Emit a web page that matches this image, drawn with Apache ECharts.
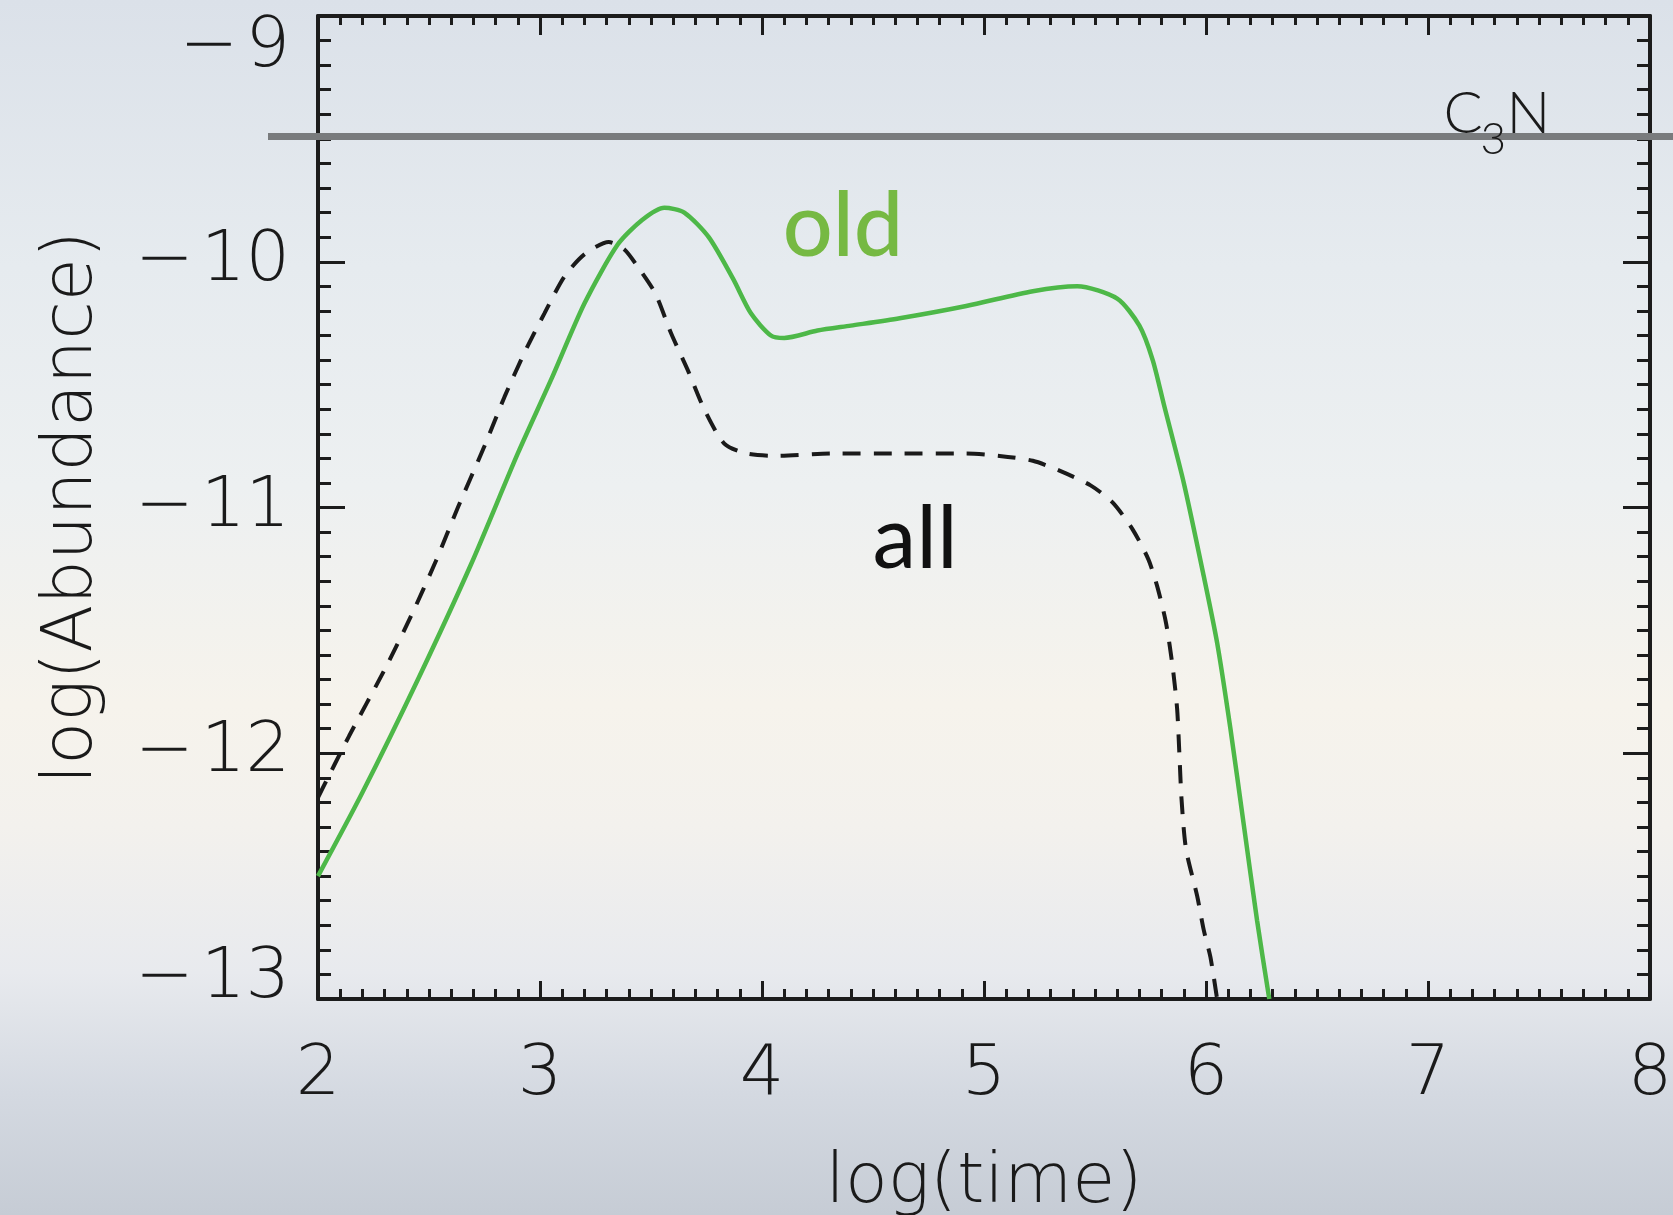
<!DOCTYPE html>
<html>
<head>
<meta charset="utf-8">
<script src="https://cdn.jsdelivr.net/npm/echarts@6/dist/echarts.min.js"></script>
<style>
  html, body { margin: 0; padding: 0; }
  body {
    background: linear-gradient(to bottom, #dbe1e9 0%, #e6ebef 22%, #edf0f1 40%, #f6f3ec 58%, #f3f1ed 68%, #e8eaee 80%, #d4d9e1 90%, #c6ccd5 100%);
  }
  #main { width: 1673px; height: 1215px; }
</style>
</head>
<body>
<div id="main"></div>
<script>
// log(time) / log(Abundance)
var timeOld = [2.0, 2.2, 2.45, 2.69, 2.9, 3.05, 3.2, 3.35, 3.46, 3.56, 3.65, 3.76, 3.87, 3.95, 4.04, 4.1, 4.25, 4.4, 4.62, 4.92, 5.22, 5.42, 5.6, 5.7, 5.76, 5.81, 5.9, 5.99, 6.05, 6.11, 6.17, 6.23, 6.285];
var abundOld = [-12.5, -12.16, -11.7, -11.23, -10.78, -10.48, -10.17, -9.93, -9.83, -9.78, -9.8, -9.9, -10.07, -10.21, -10.3, -10.31, -10.28, -10.26, -10.23, -10.18, -10.12, -10.1, -10.15, -10.26, -10.4, -10.58, -10.9, -11.28, -11.55, -11.9, -12.29, -12.68, -13.0];

var timeAll = [2.0, 2.14, 2.3, 2.42, 2.53, 2.63, 2.75, 2.84, 2.93, 3.02, 3.11, 3.2, 3.31, 3.38, 3.44, 3.52, 3.59, 3.67, 3.74, 3.83, 3.93, 4.07, 4.32, 4.62, 4.92, 5.07, 5.22, 5.34, 5.48, 5.58, 5.67, 5.74, 5.78, 5.82, 5.85, 5.87, 5.88, 5.89, 5.91, 5.96, 5.99, 6.02, 6.05];
var abundAll = [-12.18, -11.93, -11.66, -11.44, -11.22, -11.0, -10.75, -10.55, -10.37, -10.21, -10.06, -9.97, -9.92, -9.95, -10.02, -10.13, -10.29, -10.45, -10.6, -10.74, -10.78, -10.79, -10.78, -10.78, -10.78, -10.79, -10.81, -10.85, -10.91, -10.98, -11.09, -11.21, -11.32, -11.47, -11.65, -11.82, -12.0, -12.19, -12.39, -12.58, -12.72, -12.83, -13.0];

var c3nLevel = -9.49;

function pairs(xs, ys) {
  var out = [];
  for (var i = 0; i < xs.length; i++) out.push([xs[i], ys[i]]);
  return out;
}

var labelFont = { fontFamily: 'DejaVu Sans', fontWeight: 200, fontSize: 70, color: '#1a1a1a' };
var axisLineStyle = { color: '#1c1c1c', width: 4 };

function withFont(extra) {
  return Object.assign({}, labelFont, extra);
}

function xAxisDef(pos, showLabel, major, minor) {
  return {
    type: 'value', position: pos, min: 2, max: 8, interval: 1,
    axisLine: { show: true, onZero: false, lineStyle: axisLineStyle },
    axisTick: { show: true, inside: true, length: major, lineStyle: { color: '#1c1c1c', width: 3 } },
    minorTick: { show: true, splitNumber: 10, length: minor, lineStyle: { color: '#1c1c1c', width: 3 } },
    splitLine: { show: false },
    axisLabel: withFont({ show: showLabel, margin: 42 })
  };
}

function yAxisDef(pos, showLabel) {
  return {
    type: 'value', position: pos, min: -13, max: -9, interval: 1,
    axisLine: { show: true, onZero: false, lineStyle: axisLineStyle },
    axisTick: { show: true, inside: true, length: 27, lineStyle: { color: '#1c1c1c', width: 3 } },
    minorTick: { show: true, splitNumber: 10, length: 13, lineStyle: { color: '#1c1c1c', width: 3 } },
    splitLine: { show: false },
    axisLabel: withFont({
      show: showLabel, margin: 28,
      verticalAlignMaxLabel: 'top',
      verticalAlignMinLabel: 'bottom',
      formatter: function (v) {
        var t = '\u2212\u200a' + Math.abs(v);
        if (v === -9) return '{hi|' + t + '}';
        if (v === -13) return '{lo|' + t + '}';
        return '{md|' + t + '}';
      },
      rich: {
        hi: withFont({ lineHeight: 64 }),
        md: withFont({ lineHeight: 70 }),
        lo: withFont({ lineHeight: 40 })
      }
    })
  };
}

var myChart = echarts.init(document.getElementById('main'));

var xBottom = xAxisDef('bottom', true, 18, 10);
xBottom.name = 'log(time)';
xBottom.nameLocation = 'middle';
xBottom.nameGap = 150;
xBottom.nameTextStyle = labelFont;

var yLeft = yAxisDef('left', true);
yLeft.name = 'log(Abundance)';
yLeft.nameLocation = 'middle';
yLeft.nameGap = 210;
yLeft.nameTextStyle = labelFont;

var option = {
  backgroundColor: 'transparent',
  animation: false,
  grid: { left: 318, right: 23, top: 16, bottom: 216, containLabel: false, outerBoundsMode: 'none' },
  xAxis: [xBottom, xAxisDef('top', false, 19, 9)],
  yAxis: [yLeft, yAxisDef('right', false)],
  series: [
    {
      name: 'all', type: 'line', xAxisIndex: 0, yAxisIndex: 0,
      data: pairs(timeAll, abundAll),
      showSymbol: false, smooth: 0.25, clip: true,
      lineStyle: { color: '#1a1a1a', width: 4, type: [18, 13] }
    },
    {
      name: 'old', type: 'line', xAxisIndex: 0, yAxisIndex: 0,
      data: pairs(timeOld, abundOld),
      showSymbol: false, smooth: 0.25, clip: true,
      lineStyle: { color: '#4db848', width: 4.5 }
    }
  ]
};
myChart.setOption(option);

// C3N reference line and text labels, anchored to data coordinates
var lineY = myChart.convertToPixel({ gridIndex: 0 }, [2, c3nLevel])[1];
var cPos = myChart.convertToPixel({ gridIndex: 0 }, [7.07, c3nLevel]);
var oldPos = myChart.convertToPixel({ gridIndex: 0 }, [4.365, -9.86]);
var allPos = myChart.convertToPixel({ gridIndex: 0 }, [4.69, -11.13]);

myChart.setOption({
  graphic: [
    { type: 'line', z: 5, shape: { x1: 268, y1: lineY, x2: 1673, y2: lineY }, style: { stroke: '#797b7d', lineWidth: 7 } },
    { type: 'text', z: 6, x: cPos[0], y: cPos[1] - 22, style: { text: 'C', font: '300 58px Lato', fill: '#1a1a1a', textAlign: 'left', textVerticalAlign: 'middle' } },
    { type: 'text', z: 6, x: cPos[0] + 37, y: cPos[1] + 3, style: { text: '3', font: '300 44px Lato', fill: '#1a1a1a', textAlign: 'left', textVerticalAlign: 'middle' } },
    { type: 'text', z: 6, x: cPos[0] + 63, y: cPos[1] - 22, style: { text: 'N', font: '300 58px Lato', fill: '#1a1a1a', textAlign: 'left', textVerticalAlign: 'middle' } },
    { type: 'text', z: 6, x: oldPos[0], y: oldPos[1], style: { text: 'old', font: '500 88px Lato', fill: '#76b943', textAlign: 'center', textVerticalAlign: 'middle' } },
    { type: 'text', z: 6, x: allPos[0], y: allPos[1], style: { text: 'all', font: '88px Lato', fill: '#111111', textAlign: 'center', textVerticalAlign: 'middle' } }
  ]
});

window.addEventListener('resize', function () {
  myChart.resize();
});
</script>
</body>
</html>
